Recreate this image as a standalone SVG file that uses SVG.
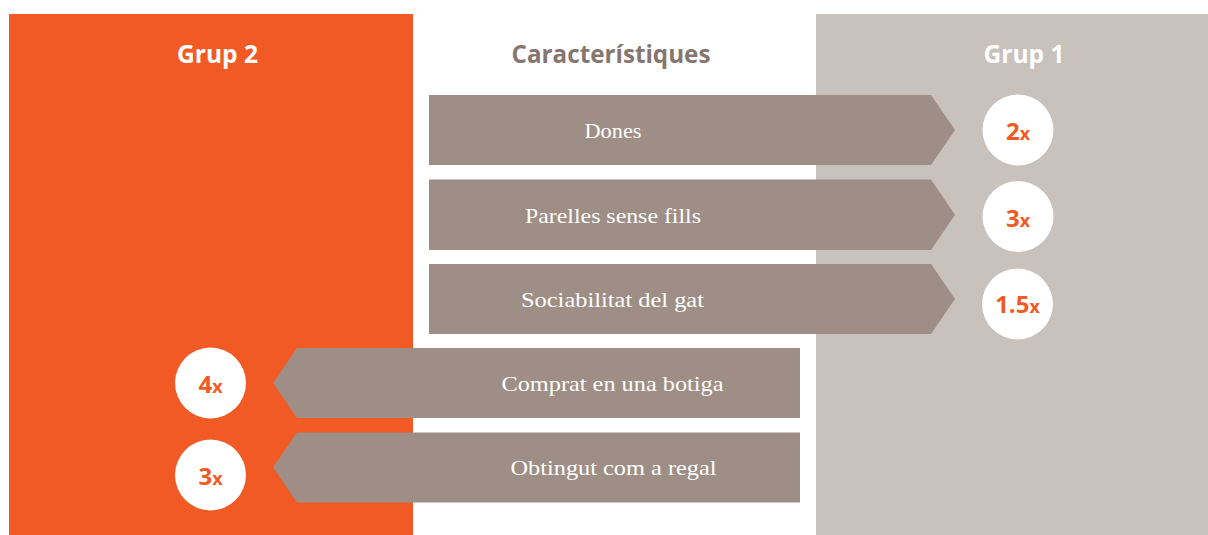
<svg xmlns="http://www.w3.org/2000/svg" width="1208" height="535" viewBox="0 0 1208 535">
  <style>
    .hdr { font-family: "Open Sans", "Liberation Sans", sans-serif; font-weight: 700; font-size: 25px; text-anchor: middle; }
    .lbl { font-family: "Liberation Serif", "DejaVu Serif", serif; font-size: 22px; fill: #ffffff; text-anchor: middle; }
    .arrow { fill: #9e8e85; }
    .circ { fill: #ffffff; }
    .num { font-family: "Open Sans", "Liberation Sans", sans-serif; font-weight: 700; fill: #f15a24; text-anchor: middle; font-size: 24px; }
    .num .x { font-size: 18px; }
  </style>
  <rect x="0" y="0" width="1208" height="535" fill="#ffffff"/>
  <g id="col-grup2">
    <rect x="9" y="14" width="404" height="521" fill="#f15a24"/>
    <text class="hdr" x="217.5" y="63" fill="#ffffff" textLength="81" lengthAdjust="spacingAndGlyphs">Grup 2</text>
  </g>
  <g id="col-caracteristiques">
    <text class="hdr" x="611" y="63" fill="#857770" textLength="199" lengthAdjust="spacingAndGlyphs">Característiques</text>
  </g>
  <g id="col-grup1">
    <rect x="816" y="14" width="392" height="521" fill="#c9c1bc"/>
    <text class="hdr" x="1024" y="63" fill="#ffffff" textLength="81" lengthAdjust="spacingAndGlyphs">Grup 1</text>
  </g>
  <g id="connectors"></g>
  <g id="arrow-dones">
    <polygon class="arrow" points="429,95 931,95 955,130 931,165 429,165"/>
    <text class="lbl" x="613" y="137.5" textLength="57" lengthAdjust="spacingAndGlyphs">Dones</text>
  </g>
  <g id="arrow-parelles">
    <polygon class="arrow" points="429,179.5 931,179.5 955,214.75 931,250 429,250"/>
    <text class="lbl" x="613" y="222.5" textLength="176" lengthAdjust="spacingAndGlyphs">Parelles sense fills</text>
  </g>
  <g id="arrow-sociabilitat">
    <polygon class="arrow" points="429,264 931,264 955,299 931,334 429,334"/>
    <text class="lbl" x="612.5" y="306.5" textLength="183" lengthAdjust="spacingAndGlyphs">Sociabilitat del gat</text>
  </g>
  <g id="arrow-comprat">
    <polygon class="arrow" points="800,348 297,348 273,383 297,418 800,418"/>
    <text class="lbl" x="612.5" y="390.5" textLength="222" lengthAdjust="spacingAndGlyphs">Comprat en una botiga</text>
  </g>
  <g id="arrow-obtingut">
    <polygon class="arrow" points="800,432.5 297,432.5 273,467.5 297,502.5 800,502.5"/>
    <text class="lbl" x="613.5" y="475" textLength="206" lengthAdjust="spacingAndGlyphs">Obtingut com a regal</text>
  </g>
  <g id="badge-dones">
    <circle class="circ" cx="1018" cy="130" r="35.5"/>
    <text class="num" x="1018" y="140">2<tspan class="x">x</tspan></text>
  </g>
  <g id="badge-parelles">
    <circle class="circ" cx="1018" cy="216.5" r="35.5"/>
    <text class="num" x="1018" y="226.5">3<tspan class="x">x</tspan></text>
  </g>
  <g id="badge-sociabilitat">
    <circle class="circ" cx="1017.5" cy="304" r="35.5"/>
    <text class="num" x="1017.5" y="313">1.5<tspan class="x">x</tspan></text>
  </g>
  <g id="badge-comprat">
    <circle class="circ" cx="210.5" cy="383" r="35.5"/>
    <text class="num" x="210.5" y="393">4<tspan class="x">x</tspan></text>
  </g>
  <g id="badge-obtingut">
    <circle class="circ" cx="210.5" cy="475" r="35.5"/>
    <text class="num" x="210.5" y="485">3<tspan class="x">x</tspan></text>
  </g>
</svg>
